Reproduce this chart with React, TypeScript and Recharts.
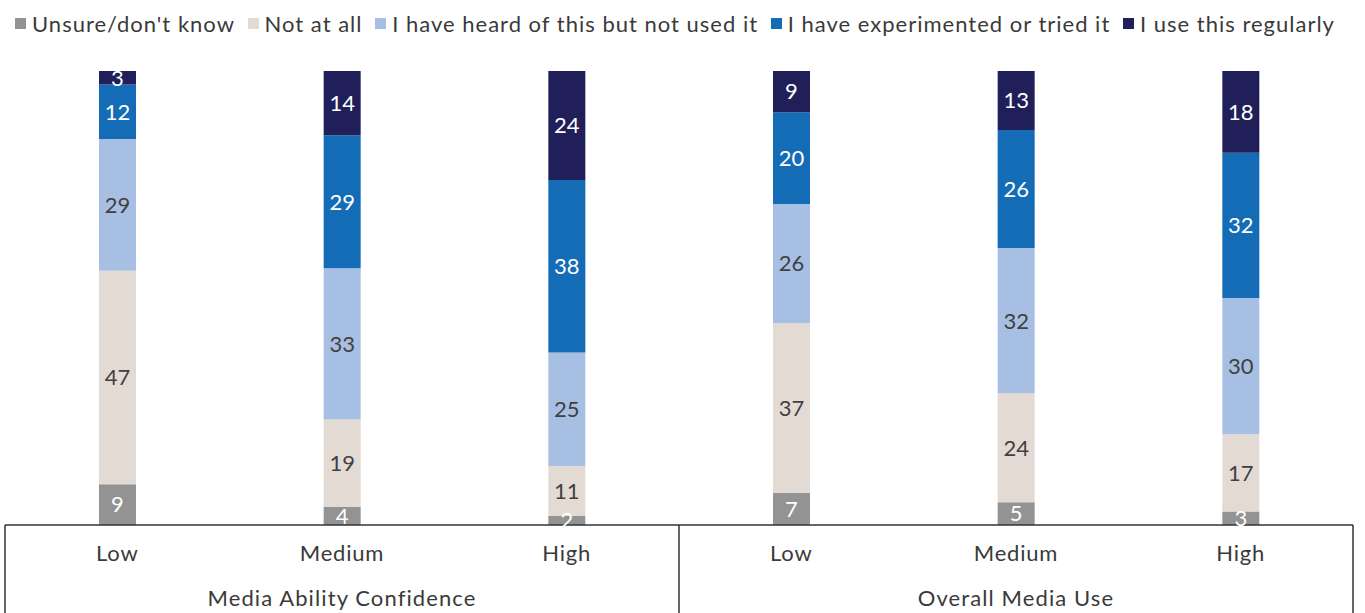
import { BarChart, Bar, XAxis, YAxis, Legend, LabelList } from "recharts";

const categories = ["Low", "Medium", "High", "Low", "Medium", "High"];
const groups = ["Media Ability Confidence", "Media Ability Confidence", "Media Ability Confidence", "Overall Media Use", "Overall Media Use", "Overall Media Use"];

const unsure = [9, 4, 2, 7, 5, 3];
const notAtAll = [47, 19, 11, 37, 24, 17];
const heard = [29, 33, 25, 26, 32, 30];
const experimented = [12, 29, 38, 20, 26, 32];
const regular = [3, 14, 24, 9, 13, 18];

const series = [
  { key: "unsure", name: "Unsure/don't know", color: "#939393", label: "#ffffff" },
  { key: "notAtAll", name: "Not at all", color: "#e4dad4", label: "#404040" },
  { key: "heard", name: "I have heard of this but not used it", color: "#a8bfe4", label: "#404040" },
  { key: "experimented", name: "I have experimented or tried it", color: "#146bb6", label: "#ffffff" },
  { key: "regular", name: "I use this regularly", color: "#201f5a", label: "#ffffff" },
];

const data = categories.map((c, i) => ({
  id: `${groups[i]}-${c}`,
  unsure: unsure[i],
  notAtAll: notAtAll[i],
  heard: heard[i],
  experimented: experimented[i],
  regular: regular[i],
}));

const FONT = "Lato, 'Noto Sans', sans-serif";
const TEXT = "#3a3a3a";
const BOX_H = 88;

function renderLegend() {
  return (
    <div
      style={{
        display: "flex",
        justifyContent: "space-between",
        alignItems: "center",
        fontFamily: FONT,
        fontSize: 22,
        letterSpacing: 1,
        color: TEXT,
        padding: "0 18px 0 10px",
        whiteSpace: "nowrap",
      }}
    >
      {series.map((s) => (
        <span key={s.key} style={{ display: "flex", alignItems: "center" }}>
          <span style={{ width: 11, height: 11, background: s.color, marginRight: 6, display: "inline-block" }} />
          {s.name}
        </span>
      ))}
    </div>
  );
}

function CategoryTick(props: any) {
  const { x, y, index } = props;
  const band = 1348 / categories.length;
  const isGroupStart = index === 0 || groups[index] !== groups[index - 1];
  return (
    <g>
      {isGroupStart && (
        <line x1={x - band / 2} x2={x - band / 2} y1={y} y2={y + BOX_H} stroke="#333" strokeWidth={1.5} />
      )}
      {index === categories.length - 1 && (
        <line x1={x + band / 2} x2={x + band / 2} y1={y} y2={y + BOX_H} stroke="#333" strokeWidth={1.5} />
      )}
      <text x={x} y={y + 36} textAnchor="middle" fontFamily={FONT} fontSize={22} letterSpacing={0.8} fill={TEXT}>
        {categories[index]}
      </text>
      {isGroupStart && (
        <text x={x + band} y={y + 81} textAnchor="middle" fontFamily={FONT} fontSize={22} letterSpacing={1.1} fill={TEXT}>
          {groups[index]}
        </text>
      )}
    </g>
  );
}

export default function App() {
  return (
    <div style={{ position: "absolute", left: 0, top: 0, background: "#fff" }}>
      <BarChart
        width={1365}
        height={613}
        data={data}
        stackOffset="expand"
        margin={{ top: 44, right: 12, left: 5, bottom: 0 }}
        barSize={37}
      >
        <Legend verticalAlign="top" content={renderLegend} wrapperStyle={{ top: 10 }} />
        <XAxis
          dataKey="id"
          height={BOX_H}
          tickLine={false}
          tickSize={0}
          tickMargin={0}
          axisLine={{ stroke: "#333", strokeWidth: 1.5 }}
          tick={<CategoryTick />}
          interval={0}
        />
        <YAxis hide domain={[0, 1]} />
        {series.map((s) => (
          <Bar key={s.key} dataKey={s.key} name={s.name} stackId="a" fill={s.color} isAnimationActive={false}>
            <LabelList dataKey={s.key} position="center" fill={s.label} fontFamily={FONT} fontSize={22} />
          </Bar>
        ))}
      </BarChart>
    </div>
  );
}
